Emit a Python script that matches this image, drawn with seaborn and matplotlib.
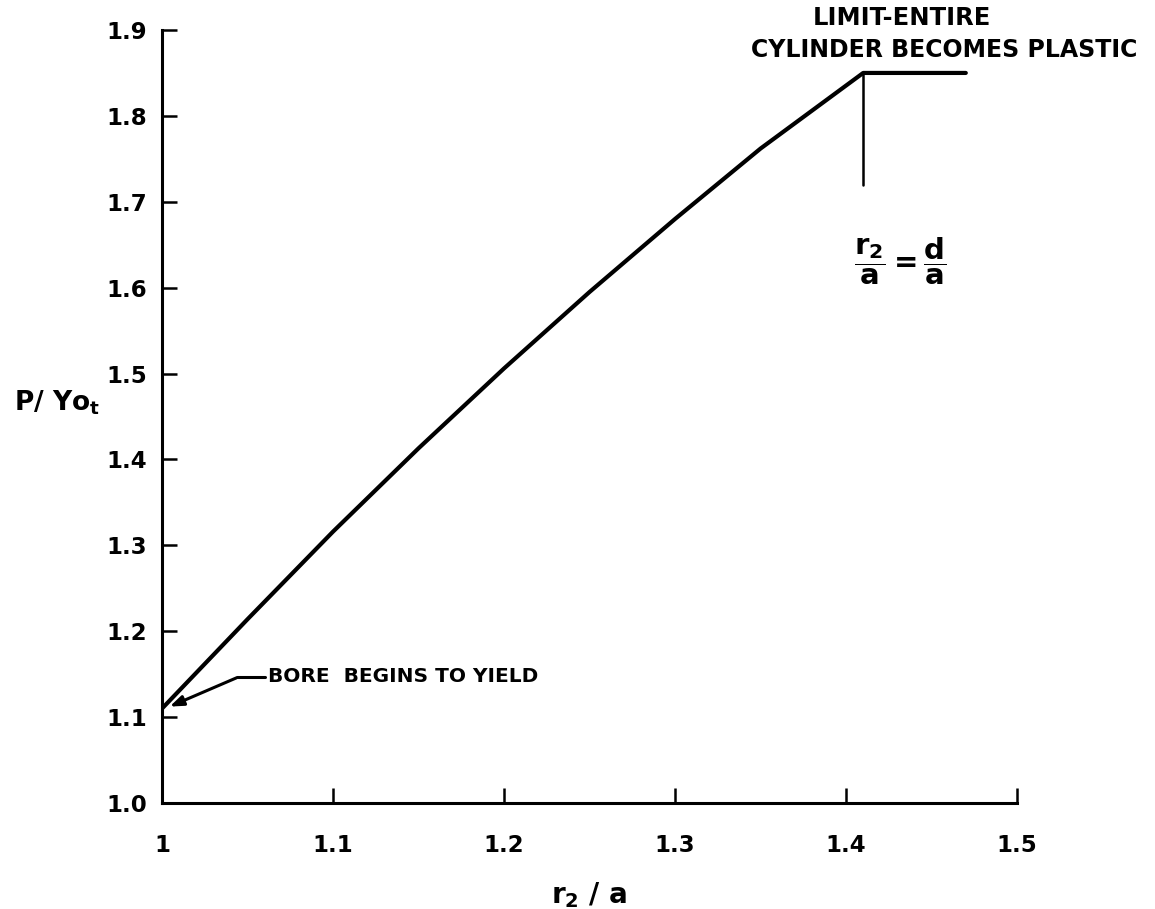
#!/usr/bin/env python3
"""Pressure ratio P/Yo_t against r2/a for a partly plastic thick cylinder."""
import matplotlib
matplotlib.use("Agg")
import matplotlib.pyplot as plt
import pandas as pd
import seaborn as sns

# curve: elastic-plastic boundary ratio vs pressure ratio
r_ratio = [1.00, 1.05, 1.10, 1.15, 1.20, 1.25, 1.30, 1.35, 1.41, 1.47]
p_ratio = [1.11, 1.214, 1.316, 1.413, 1.506, 1.595, 1.68, 1.762, 1.85, 1.85]

x_ticks = [1.0, 1.1, 1.2, 1.3, 1.4, 1.5]
x_tick_labels = ["1", "1.1", "1.2", "1.3", "1.4", "1.5"]
y_ticks = [1.0, 1.1, 1.2, 1.3, 1.4, 1.5, 1.6, 1.7, 1.8, 1.9]
y_tick_labels = ["1.0", "1.1", "1.2", "1.3", "1.4", "1.5", "1.6", "1.7", "1.8", "1.9"]

limit_x = 1.41
limit_y = 1.85
limit_marker_bottom = 1.72
bore_yield = (1.0, 1.11)

sns.set_style("ticks")
plt.rcParams["font.family"] = ["DejaVu Sans"]
plt.rcParams["font.weight"] = "bold"
plt.rcParams["text.color"] = "black"
plt.rcParams["axes.labelcolor"] = "black"
plt.rcParams["mathtext.fontset"] = "dejavusans"

df = pd.DataFrame({"r2/a": r_ratio, "P/Yo": p_ratio})

fig = plt.figure(figsize=(11.55, 9.09), dpi=100)
ax = fig.add_axes([0.1403, 0.1166, 0.7403, 0.8504])

sns.lineplot(data=df, x="r2/a", y="P/Yo", sort=False, color="black", lw=3.0, ax=ax)

ax.set_xlim(1.0, 1.5)
ax.set_ylim(1.0, 1.9)
ax.set_xticks(x_ticks)
ax.set_xticklabels(x_tick_labels)
ax.set_yticks(y_ticks)
ax.set_yticklabels(y_tick_labels)

sns.despine(ax=ax)
for side in ["left", "bottom"]:
    ax.spines[side].set_linewidth(2.2)
    ax.spines[side].set_color("black")
ax.tick_params(axis="both", direction="in", length=11, width=1.8, colors="black",
               labelsize=16.5)
ax.tick_params(axis="x", pad=22)
ax.tick_params(axis="y", pad=11)

ax.set_xlabel(r"r$_\mathbf{2}$ / a", fontsize=20, fontweight="bold")
ax.xaxis.set_label_coords(0.5, -0.10)
ax.set_ylabel(r"P/ Yo$_\mathbf{t}$", fontsize=19, fontweight="bold", rotation=0)
ax.yaxis.set_label_coords(-0.123, 0.5)

# limit marker and its label
ax.plot([limit_x, limit_x], [limit_y, limit_marker_bottom], color="black", lw=1.8)
ax.text(1.4316, 1.631,
        r"$\dfrac{\mathbf{r}_\mathbf{2}}{\mathbf{a}}=\dfrac{\mathbf{d}}{\mathbf{a}}$",
        fontsize=21, ha="center", va="center")
ax.text(1.4325, 1.914, "LIMIT-ENTIRE", fontsize=17.5, ha="center", va="center",
        fontweight="bold", clip_on=False)
ax.text(1.5705, 1.877, "CYLINDER BECOMES PLASTIC", fontsize=17, ha="right",
        va="center", fontweight="bold", clip_on=False)

# bore-yield leader
ax.annotate("", xy=(bore_yield[0] + 0.003, bore_yield[1] + 0.001),
            xytext=(1.045, 1.147),
            arrowprops=dict(arrowstyle="-|>,head_length=0.8,head_width=0.3",
                            color="black", lw=2.2))
ax.plot([1.044, 1.060], [1.147, 1.147], color="black", lw=2.2)
ax.text(1.062, 1.147, "BORE  BEGINS TO YIELD", fontsize=14.5, ha="left",
        va="center", fontweight="bold")

fig.savefig("out.png", dpi=100)
plt.close(fig)
